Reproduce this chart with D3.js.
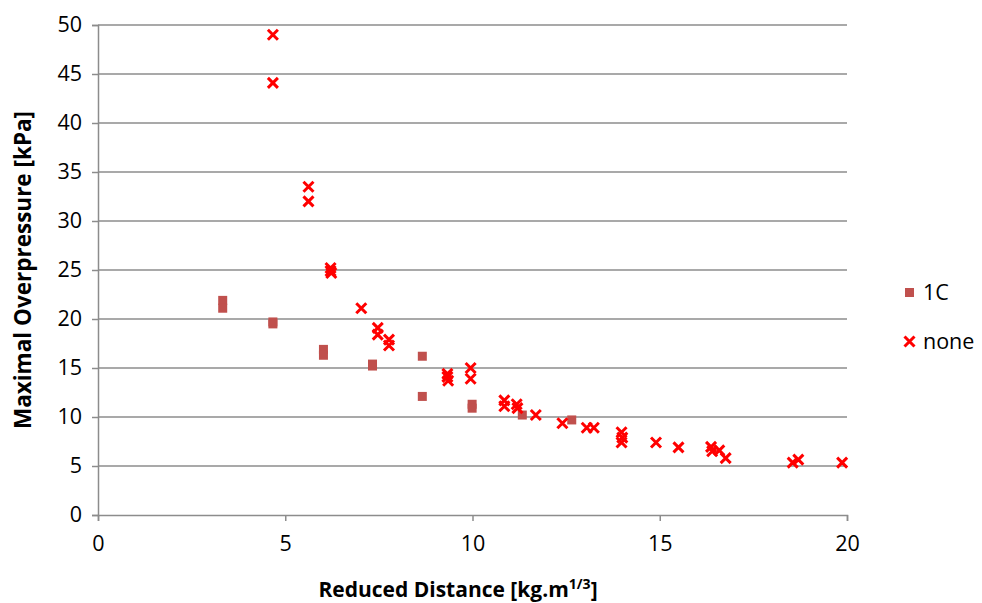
<!DOCTYPE html>
<html>
<head>
<meta charset="utf-8">
<script src="https://cdn.jsdelivr.net/npm/d3@7"></script>
<style>
    body { margin: 0; background: #fff; }
    text { font-family: "Open Sans", Lato, sans-serif; }
</style>
</head>
<body>
<div id="chart"></div>
<script>
// 데이터
const xTicks = [0, 5, 10, 15, 20];
const yTicks = [0, 5, 10, 15, 20, 25, 30, 35, 40, 45, 50];

const c1X = [3.33, 3.33, 4.67, 4.67, 6.02, 6.02, 7.33, 7.33, 8.66, 8.66, 9.99, 9.99, 11.33, 12.65];
const c1Y = [21.9, 21.1, 19.7, 19.5, 16.9, 16.3, 15.4, 15.2, 16.2, 12.1, 11.3, 10.9, 10.2, 9.7];

const noneX = [4.67, 4.67, 5.62, 5.62, 6.21, 6.21, 6.23, 7.03, 7.47, 7.47, 7.77, 7.77,
    9.33, 9.33, 9.35, 9.95, 9.95, 10.85, 10.85, 11.18, 11.2, 11.69, 12.4, 13.05, 13.24,
    13.98, 14.0, 13.98, 14.9, 15.5, 16.37, 16.4, 16.59, 16.76, 18.55, 18.7, 19.87];
const noneY = [49.0, 44.1, 33.5, 32.0, 25.2, 24.9, 24.7, 21.1, 19.1, 18.4, 17.9, 17.3,
    14.4, 14.1, 13.7, 15.0, 13.9, 11.7, 11.1, 11.3, 10.9, 10.2, 9.36, 8.9, 8.9,
    8.45, 7.9, 7.4, 7.4, 6.9, 6.95, 6.5, 6.6, 5.8, 5.35, 5.65, 5.35];

const seriesNames = ['1C', 'none'];

const W = 982, H = 603;
const margin = { left: 98, top: 25, right: 135, bottom: 88 };
const FONT = '"Open Sans", Lato, sans-serif';

const svg = d3.select('#chart')
    .append('svg')
    .attr('width', W)
    .attr('height', H);

const x = d3.scaleLinear().domain([0, 20]).range([margin.left, W - margin.right]);
const y = d3.scaleLinear().domain([0, 50]).range([H - margin.bottom, margin.top]);

// 가로 격자선
svg.append('g')
    .selectAll('line')
    .data(yTicks.filter(d => d > 0))
    .join('line')
    .attr('x1', x(0))
    .attr('x2', x(20))
    .attr('y1', d => y(d))
    .attr('y2', d => y(d))
    .attr('stroke', '#8c8c8c')
    .attr('stroke-width', 1.5);

// Y축
const yAxis = svg.append('g')
    .attr('transform', `translate(${x(0)},0)`)
    .call(d3.axisLeft(y).tickValues(yTicks).tickSize(6).tickPadding(10));
yAxis.select('.domain').attr('stroke', '#8c8c8c').attr('stroke-width', 1.5);
yAxis.selectAll('.tick line').attr('stroke', '#8c8c8c').attr('stroke-width', 1.5);
yAxis.selectAll('.tick text')
    .attr('font-size', '21.5px')
    .attr('fill', '#000')
    .style('font-family', FONT);

// X축
const xAxis = svg.append('g')
    .attr('transform', `translate(0,${y(0)})`)
    .call(d3.axisBottom(x).tickValues(xTicks).tickSize(6).tickPadding(15));
xAxis.select('.domain').attr('stroke', '#8c8c8c').attr('stroke-width', 1.5);
xAxis.selectAll('.tick line').attr('stroke', '#8c8c8c').attr('stroke-width', 1.5);
xAxis.selectAll('.tick text')
    .attr('font-size', '21.5px')
    .attr('fill', '#000')
    .style('font-family', FONT);

// 축 제목
svg.append('text')
    .attr('transform', `translate(31,${(y(0) + y(50)) / 2}) rotate(-90)`)
    .attr('text-anchor', 'middle')
    .attr('font-size', '22.5px')
    .attr('font-weight', 'bold')
    .text('Maximal Overpressure [kPa]');

const xTitle = svg.append('text')
    .attr('x', 458)
    .attr('y', 597)
    .attr('text-anchor', 'middle')
    .attr('font-size', '21px')
    .attr('font-weight', 'bold');
xTitle.append('tspan').text('Reduced Distance [kg.m');
xTitle.append('tspan').attr('font-size', '14px').attr('dy', -8).text('1/3');
xTitle.append('tspan').attr('dy', 8).text(']');

// 마커 함수
const crossPath = (cx, cy, s) =>
    `M${cx - s},${cy - s}L${cx + s},${cy + s}M${cx - s},${cy + s}L${cx + s},${cy - s}`;

// 1C 시리즈 (사각형)
svg.append('g')
    .selectAll('rect')
    .data(c1X.map((d, i) => [d, c1Y[i]]))
    .join('rect')
    .attr('x', d => x(d[0]) - 4.5)
    .attr('y', d => y(d[1]) - 4.5)
    .attr('width', 9)
    .attr('height', 9)
    .attr('fill', '#c0504d');

// none 시리즈 (X 표시)
svg.append('g')
    .selectAll('path')
    .data(noneX.map((d, i) => [d, noneY[i]]))
    .join('path')
    .attr('d', d => crossPath(x(d[0]), y(d[1]), 5))
    .attr('stroke', '#ff0000')
    .attr('stroke-width', 3)
    .attr('fill', 'none');

// 범례
const legend = svg.append('g');
legend.append('rect')
    .attr('x', 905).attr('y', 288)
    .attr('width', 9).attr('height', 9)
    .attr('fill', '#c0504d');
legend.append('text')
    .attr('x', 923).attr('y', 300)
    .attr('font-size', '21.5px')
    .text(seriesNames[0]);
legend.append('path')
    .attr('d', crossPath(909.5, 341.5, 5))
    .attr('stroke', '#ff0000')
    .attr('stroke-width', 3)
    .attr('fill', 'none');
legend.append('text')
    .attr('x', 923).attr('y', 349)
    .attr('font-size', '21.5px')
    .text(seriesNames[1]);
</script>
</body>
</html>
